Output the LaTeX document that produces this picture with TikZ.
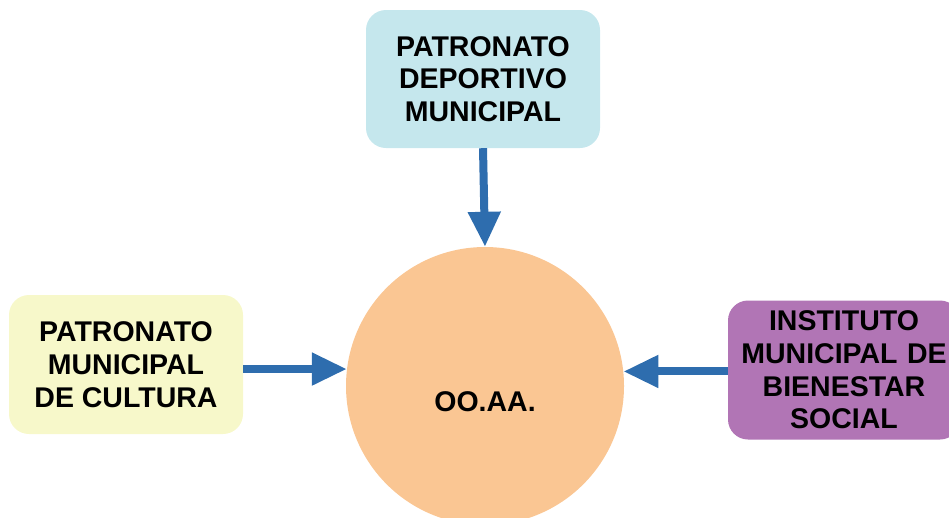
\documentclass[tikz,border=0pt]{standalone}
\usepackage{fontspec}
\setmainfont{Liberation Sans}
\usetikzlibrary{arrows.meta}
\definecolor{boxblue}{HTML}{C5E7ED}
\definecolor{boxyellow}{HTML}{F7F8CA}
\definecolor{boxpurple}{HTML}{B175B5}
\definecolor{circorange}{HTML}{FAC693}
\definecolor{arrowblue}{HTML}{2E6DAE}
\tikzset{
  orgbox/.style={rounded corners=20pt, inner sep=0pt, align=center,
    font=\fontsize{28.5}{32.7}\selectfont\bfseries},
  conn/.style={draw=arrowblue, line width=8pt,
    -{Triangle[width=31pt,length=35pt]}}
}
\begin{document}
\begin{tikzpicture}[x=1pt,y=-1pt]
\useasboundingbox (0,0) rectangle (949,517);
\clip (0,0) rectangle (949,517);
\node[circle, fill=circorange, minimum size=278pt, inner sep=0pt] (oo) at (485,386) {};
\node[font=\fontsize{28.5}{32.7}\selectfont\bfseries] (ootext) at (485,402) {OO.AA.};
\node[orgbox, fill=boxblue, minimum width=234pt, minimum height=138pt] (top) at (483,79)
  {PATRONATO\\DEPORTIVO\\MUNICIPAL};
\node[orgbox, fill=boxyellow, minimum width=234pt, minimum height=139pt] (left) at (126,364.5)
  {PATRONATO\\MUNICIPAL\\DE CULTURA};
\node[orgbox, fill=boxpurple, minimum width=232pt, minimum height=139pt, text width=232pt] (right) at (844,370)
  {INSTITUTO\\MUNICIPAL DE\\BIENESTAR\\SOCIAL};
\draw[conn] (top.south) -- (oo.north);
\draw[conn] (left.east |- oo.173.4) -- (oo.173.4);
\draw[conn] (right.west |- oo.6.6) -- (oo.6.6);
\end{tikzpicture}
\end{document}
